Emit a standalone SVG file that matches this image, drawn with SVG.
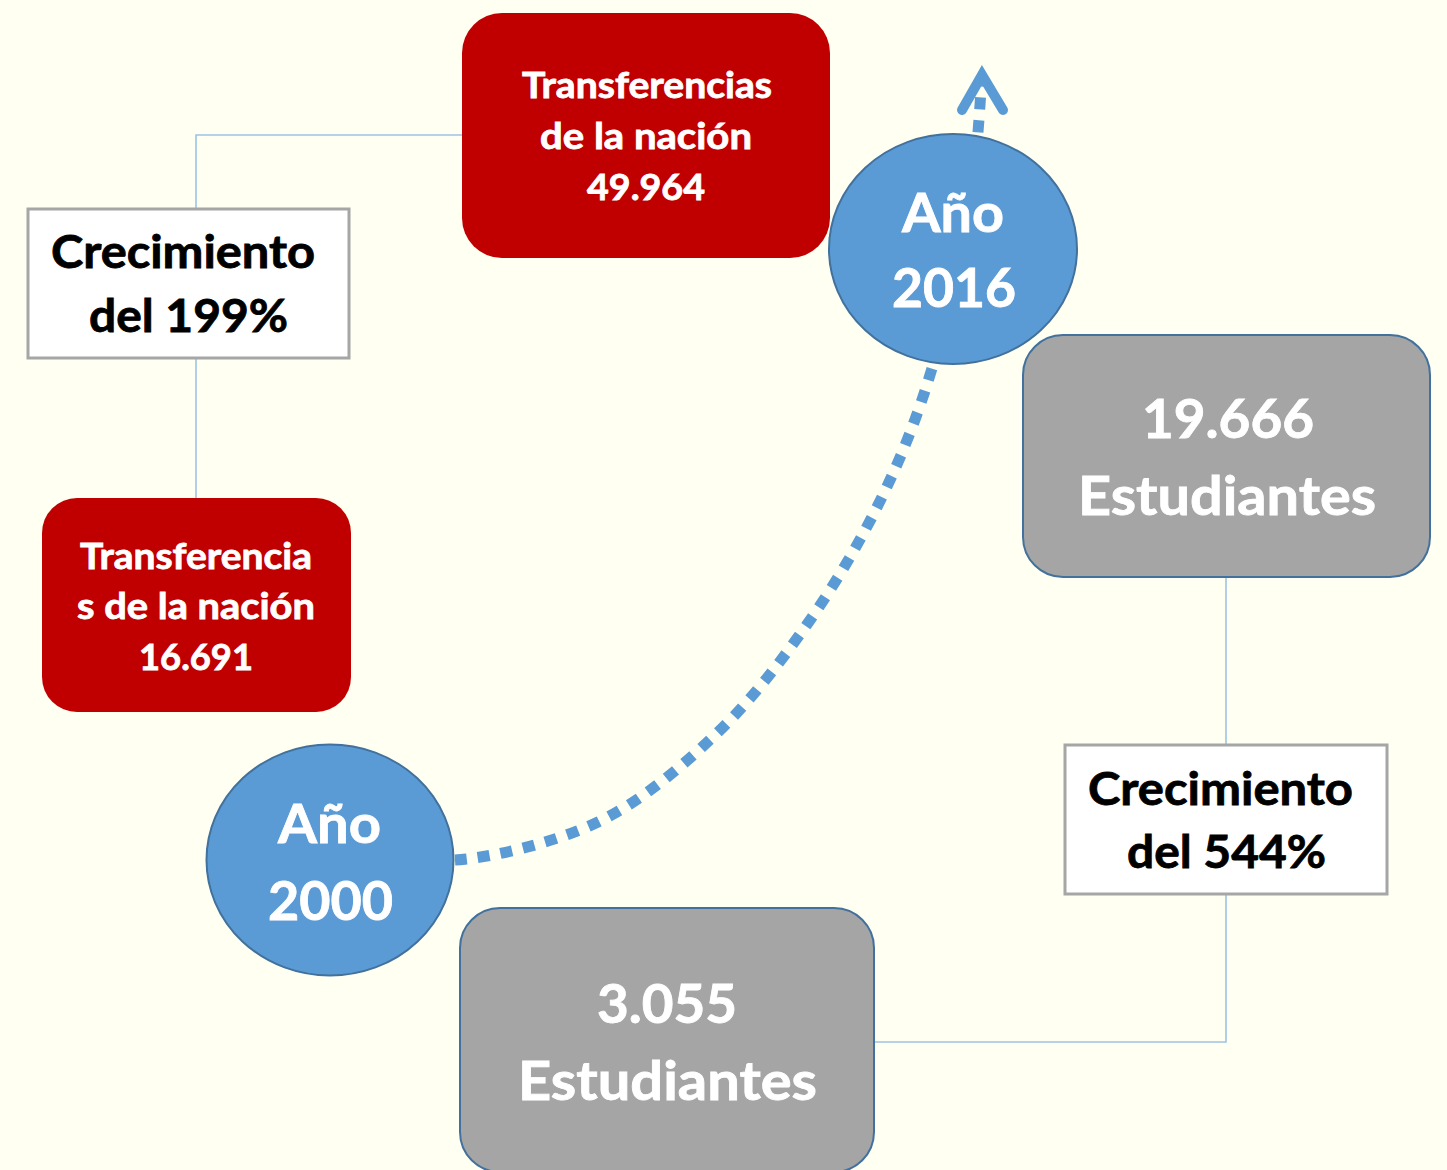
<svg xmlns="http://www.w3.org/2000/svg" width="1447" height="1170" viewBox="0 0 1447 1170">
<style>
.bg{fill:#FFFFF2}
.conn{fill:none;stroke:#9DC3E6;stroke-width:1.6}
.dot{fill:none;stroke:#5B9BD5;stroke-width:11;stroke-dasharray:12 11}
.head{fill:none;stroke:#5B9BD5;stroke-width:10;stroke-linecap:round;stroke-linejoin:miter}
.red{fill:#C00000}
.gray{fill:#A5A5A5;stroke:#41719C;stroke-width:2}
.circ{fill:#5B9BD5;stroke:#41719C;stroke-width:2}
.box{fill:#FFFFFF;stroke:#A6A6A6;stroke-width:3}
text{font-family:Lato,"Open Sans","Liberation Sans",sans-serif;font-weight:700}
.w{fill:#FFFFFF;stroke:#FFFFFF;stroke-width:0.8}
.k{fill:#000000;stroke:#000000;stroke-width:0.8}
.s36{font-size:36px}
.s46{font-size:46px}
.s53{font-size:53px}
</style>
<rect class="bg" x="0" y="0" width="1447" height="1170"/>
<g id="connectors">
<polyline class="conn" points="462,135 196,135 196,209"/>
<line class="conn" x1="196" y1="358" x2="196" y2="498"/>
<line class="conn" x1="1226" y1="577" x2="1226" y2="745"/>
<polyline class="conn" points="1226,894 1226,1042 873,1042"/>
<path class="dot" d="M455,860 C490,858 554.7,842.8 598,822 C641.3,801.2 680,768.2 715,735 C750,701.8 780.2,662.7 808,623 C835.8,583.3 861.2,540 882,497 C902.8,454 918.3,414.5 933,365 C947.7,315.5 961.8,248.3 970,200 C978.2,151.7 980,95.8 982,80"/>
<polyline class="head" points="962,110 982,75 1003,110"/>
</g>
<g id="node-transf-2016">
<rect class="red" x="462" y="13" width="368" height="245" rx="40"/>
<text class="w s36" x="522" y="98" textLength="250" lengthAdjust="spacingAndGlyphs">Transferencias</text>
<text class="w s36" x="540" y="149" textLength="212" lengthAdjust="spacingAndGlyphs">de la nación</text>
<text class="w s36" x="587" y="200" textLength="118" lengthAdjust="spacingAndGlyphs">49.964</text>
</g>
<g id="node-crec-199">
<rect class="box" x="28" y="209" width="321" height="149"/>
<text class="k s46" x="51" y="268" textLength="264" lengthAdjust="spacingAndGlyphs">Crecimiento</text>
<text class="k s46" x="89" y="332" textLength="199" lengthAdjust="spacingAndGlyphs">del 199%</text>
</g>
<g id="node-transf-2000">
<rect class="red" x="42" y="498" width="309" height="214" rx="35"/>
<text class="w s36" x="80" y="569" textLength="232" lengthAdjust="spacingAndGlyphs">Transferencia</text>
<text class="w s36" x="77" y="619" textLength="238" lengthAdjust="spacingAndGlyphs">s de la nación</text>
<text class="w s36" x="139" y="670" textLength="114" lengthAdjust="spacingAndGlyphs">16.691</text>
</g>
<g id="node-ano-2016">
<ellipse class="circ" cx="953" cy="249" rx="124" ry="115"/>
<text class="w s53" x="902" y="232" textLength="102" lengthAdjust="spacingAndGlyphs">Año</text>
<text class="w s53" x="892" y="307" textLength="124" lengthAdjust="spacingAndGlyphs">2016</text>
</g>
<g id="node-est-2016">
<rect class="gray" x="1023" y="335" width="407" height="242" rx="40"/>
<text class="w s53" x="1142" y="438" textLength="172" lengthAdjust="spacingAndGlyphs">19.666</text>
<text class="w s53" x="1078" y="515" textLength="298" lengthAdjust="spacingAndGlyphs">Estudiantes</text>
</g>
<g id="node-crec-544">
<rect class="box" x="1065" y="745" width="322" height="149"/>
<text class="k s46" x="1088" y="805" textLength="265" lengthAdjust="spacingAndGlyphs">Crecimiento</text>
<text class="k s46" x="1127" y="868" textLength="199" lengthAdjust="spacingAndGlyphs">del 544%</text>
</g>
<g id="node-ano-2000">
<ellipse class="circ" cx="330" cy="860" rx="123.5" ry="115.5"/>
<text class="w s53" x="278" y="843" textLength="103" lengthAdjust="spacingAndGlyphs">Año</text>
<text class="w s53" x="268" y="920" textLength="125" lengthAdjust="spacingAndGlyphs">2000</text>
</g>
<g id="node-est-2000">
<rect class="gray" x="460" y="908" width="414" height="264" rx="40"/>
<text class="w s53" x="597" y="1023" textLength="140" lengthAdjust="spacingAndGlyphs">3.055</text>
<text class="w s53" x="518" y="1100" textLength="299" lengthAdjust="spacingAndGlyphs">Estudiantes</text>
</g>
</svg>
